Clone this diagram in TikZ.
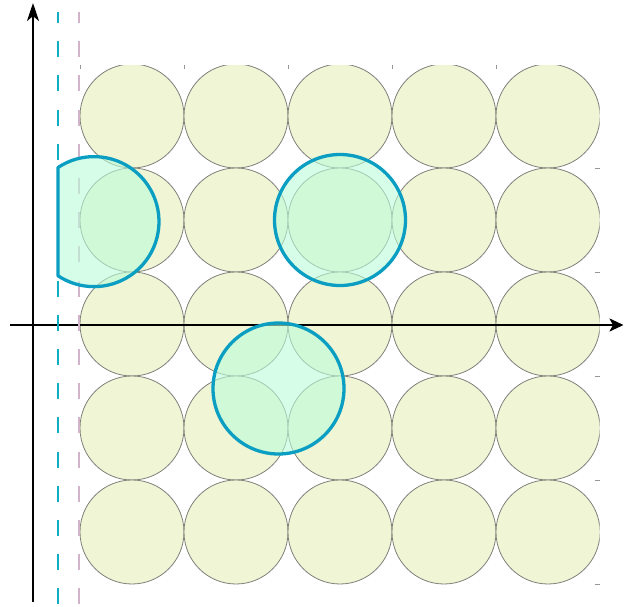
\documentclass[tikz,border=0pt]{standalone}
\usetikzlibrary{arrows.meta}
\definecolor{cellfill}{RGB}{240,245,213}
\definecolor{cellline}{RGB}{128,128,122}
\definecolor{ringblue}{RGB}{10,158,194}
\definecolor{mint}{RGB}{185,252,217}
\definecolor{dashcyan}{RGB}{16,174,196}
\definecolor{dashpink}{RGB}{210,180,202}
\definecolor{tickgray}{RGB}{150,150,150}
\begin{document}
\begin{tikzpicture}[x=1pt,y=-1pt,
  cell/.style={fill=cellfill,draw=cellline,line width=0.8pt},
  tickmark/.style={draw=tickgray,line width=0.8pt},
  axisline/.style={line width=2.4pt},
  vtip/.style={-{Stealth[length=18pt,width=12pt,inset=5pt]}},
  htip/.style={-{Stealth[length=14pt,width=13pt,inset=3.5pt]}},
  guide/.style={line width=2.3pt,dash pattern=on 16pt off 18.2pt,dash phase=5pt},
  ringfill/.style={fill=mint,fill opacity=0.6},
  ring/.style={draw=ringblue,line width=3.3pt}]
\useasboundingbox (0,0) rectangle (624,606);
% grid of circles
\begin{scope}
  \clip (70,65) rectangle (599.5,610);
  \foreach \i in {0,...,4}
    \foreach \j in {0,...,4}
      \path[cell] (132+104*\i,116+104*\j) circle[radius=52];
\end{scope}
% ticks
\foreach \x in {80,184,288,392,496}
  \draw[tickmark] (\x,64.5) -- (\x,69);
\foreach \y in {168,272,376,480,584}
  \draw[tickmark] (595,\y) -- (599.5,\y);
% axes
\coordinate (ybot) at (33,602);
\coordinate (ytop) at (33,3);
\coordinate (xl) at (10,325);
\coordinate (xr) at (623.5,325);
\draw[axisline,vtip] (ybot) -- (ytop);
\draw[axisline,htip] (xl) -- (xr);
% dashed guides
\coordinate (ct) at (58,12);
\coordinate (cb) at (58,606);
\coordinate (pt) at (79,12);
\coordinate (pb) at (79,606);
\draw[guide,dashcyan] (ct) -- (cb);
\draw[guide,dashpink] (pt) -- (pb);
% blue rings
\path[ringfill] (340,220) circle[radius=65.5];
\path[ring] (340,220) circle[radius=65.5];
\path[ringfill] (278.5,388.5) circle[radius=65.5];
\path[ring] (278.5,388.5) circle[radius=65.5];
\path[ringfill] (58,167.5) arc[start angle=-123.6,end angle=123.6,radius=65] -- cycle;
\path[ring,line join=round] (58,167.5) arc[start angle=-123.6,end angle=123.6,radius=65] -- cycle;
\end{tikzpicture}
\end{document}
